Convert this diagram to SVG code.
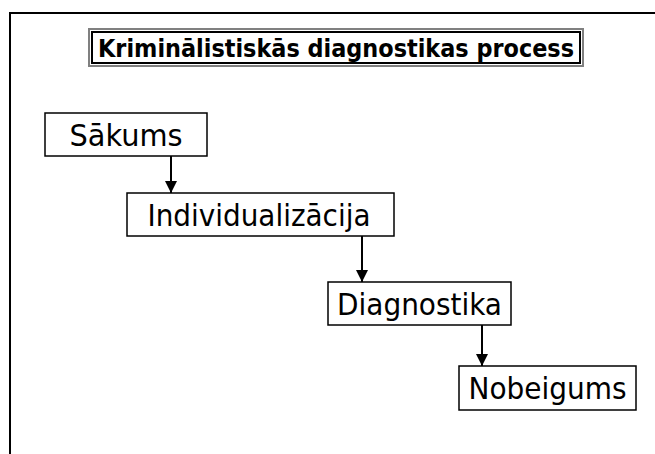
<svg xmlns="http://www.w3.org/2000/svg" width="655" height="454" viewBox="0 0 655 454">
  <defs>
    <style>
      .box { fill: #ffffff; stroke: #000000; stroke-width: 1.5; }
      .lbl { font-family: "DejaVu Sans Condensed", "DejaVu Sans", Verdana, sans-serif; font-stretch: condensed; font-size: 31px; fill: #000000; text-anchor: middle; }
      .ttl { font-family: "DejaVu Sans Condensed", "DejaVu Sans", Verdana, sans-serif; font-stretch: condensed; font-size: 25px; font-weight: bold; fill: #000000; text-anchor: middle; }
      .conn { stroke: #000000; stroke-width: 2; fill: none; marker-end: url(#arr); }
    </style>
    <marker id="arr" viewBox="0 0 10 10" refX="10" refY="5" markerWidth="6" markerHeight="6" markerUnits="strokeWidth" orient="auto">
      <path d="M0,0 L10,5 L0,10 Z" fill="#000000"/>
    </marker>
  </defs>
  <rect width="655" height="454" fill="#ffffff"/>
  <path d="M10,460 V13 H660" fill="none" stroke="#000000" stroke-width="2"/>

  <g id="title">
    <rect x="89" y="29" width="494" height="37" fill="#ffffff" stroke="#808080" stroke-width="2"/>
    <rect x="92" y="32" width="488" height="31" fill="none" stroke="#000000" stroke-width="2"/>
    <text class="ttl" x="336" y="57" textLength="476" lengthAdjust="spacingAndGlyphs">Kriminālistiskās diagnostikas process</text>
  </g>

  <g id="connectors">
    <line class="conn" x1="171" y1="156" x2="171" y2="193"/>
    <line class="conn" x1="362" y1="236" x2="362" y2="282"/>
    <line class="conn" x1="482" y1="325" x2="482" y2="366"/>
  </g>

  <g id="node-sakums">
    <rect class="box" x="45" y="113" width="162" height="43"/>
    <text class="lbl" x="126" y="146" textLength="113" lengthAdjust="spacingAndGlyphs">Sākums</text>
  </g>
  <g id="node-individualizacija">
    <rect class="box" x="127" y="193" width="267" height="43"/>
    <text class="lbl" x="259" y="226" textLength="223" lengthAdjust="spacingAndGlyphs">Individualizācija</text>
  </g>
  <g id="node-diagnostika">
    <rect class="box" x="328" y="282" width="183" height="43"/>
    <text class="lbl" x="419.5" y="315" textLength="165" lengthAdjust="spacingAndGlyphs">Diagnostika</text>
  </g>
  <g id="node-nobeigums">
    <rect class="box" x="459" y="366" width="177" height="44"/>
    <text class="lbl" x="547.5" y="399" textLength="158" lengthAdjust="spacingAndGlyphs">Nobeigums</text>
  </g>
</svg>
